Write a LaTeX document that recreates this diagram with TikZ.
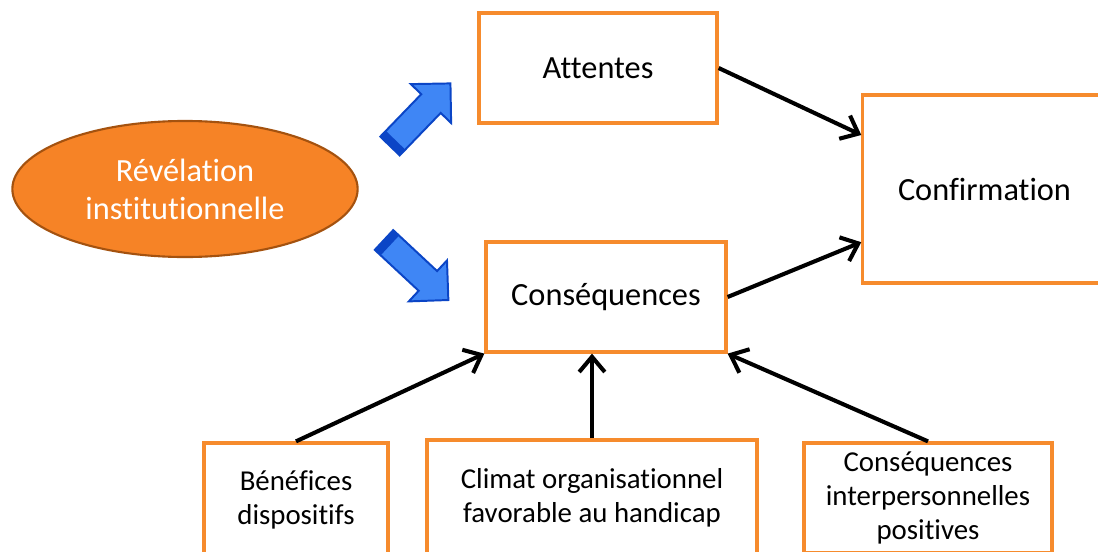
\documentclass[tikz,border=0pt]{standalone}
\usepackage{fontspec}
\setmainfont[Ligatures=NoCommon]{Carlito}
\usetikzlibrary{positioning,arrows.meta,calc,shapes.geometric}
\definecolor{boxorange}{HTML}{F68B2D}
\definecolor{ellfill}{HTML}{F68326}
\definecolor{elldraw}{HTML}{A4520F}
\definecolor{arrowblue}{HTML}{3F86F5}
\definecolor{arrowdark}{HTML}{0B45C6}
\tikzset{
  >={Straight Barb[length=3.8mm,width=6.4mm]},
  box/.style={draw=boxorange, line width=2.3pt, fill=white, align=center, inner sep=0pt},
  bigtext/.style={font=\fontsize{23}{27}\selectfont},
  smalltext/.style={font=\fontsize{20.5}{24}\selectfont},
}

\begin{document}
\begin{tikzpicture}[
  x=0.025cm, y=-0.025cm,
  link/.style={->, line width=2.9pt}
]
  \clip (0,0) rectangle (1098,552);
  \node[ellipse, fill=ellfill, draw=elldraw, line width=1.5pt, minimum width=8.63cm,
        minimum height=3.4cm, text=white, bigtext, align=center, inner sep=0pt]
        (rev) at (185,189) {Révélation\\institutionnelle};
  \node[box, bigtext, minimum width=5.95cm, minimum height=2.75cm] (att) at (598,68) {Attentes};
  \node[box, bigtext, minimum width=6cm, minimum height=2.75cm] (cons) at (606,297) {Conséquences};
  \node[box, bigtext, minimum width=6.08cm, minimum height=4.7cm] (conf) at (984.5,189) {Confirmation};
  \node[box, smalltext, minimum width=4.6cm, minimum height=2.85cm] (benef) at (296,500) {Bénéfices\\dispositifs};
  \node[box, smalltext, minimum width=8.25cm, minimum height=2.9cm] (climat) at (592,498) {Climat organisationnel\\favorable au handicap};
  \node[box, smalltext, minimum width=6.2cm, minimum height=2.75cm] (interp) at (928,498) {Conséquences\\interpersonnelles\\positives};

  % block arrows
  \begin{scope}[shift={(390,146)}, rotate=46]
    \filldraw[fill=arrowblue, draw=arrowdark, line width=1.4pt]
      (0,-13.5) -- (59,-13.5) -- (59,-28) -- (87,0) -- (59,28) -- (59,13.5) -- (0,13.5) -- cycle;
    \fill[arrowdark] (0,-13.5) rectangle (8,13.5);
  \end{scope}
  \begin{scope}[shift={(384,240)}, rotate=-43]
    \filldraw[fill=arrowblue, draw=arrowdark, line width=1.4pt]
      (0,-13.5) -- (60,-13.5) -- (60,-28) -- (88,0) -- (60,28) -- (60,13.5) -- (0,13.5) -- cycle;
    \fill[arrowdark] (0,-13.5) rectangle (8,13.5);
  \end{scope}

  \path[link]
    (att.east) edge ([yshift=1.35cm]conf.west)
    (cons.east) edge ([yshift=-1.33cm]conf.west)
    (benef.north) edge (cons.south west)
    (climat.north) edge (climat.north |- cons.south)
    (interp.north) edge (cons.south east);
\end{tikzpicture}
\end{document}
